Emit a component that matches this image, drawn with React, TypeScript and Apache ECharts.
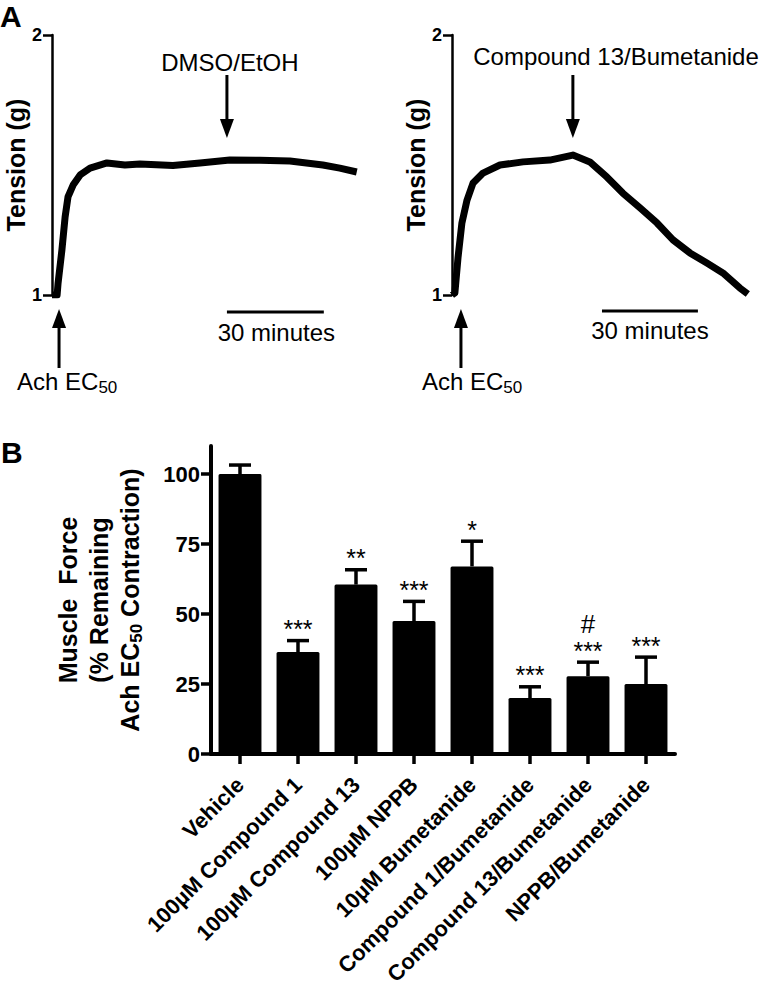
import React, { useEffect, useRef } from "react";
import * as echarts from "echarts";

// ---- Panel A traces (time in minutes, tension in g) ----
const leftTime = [0, 1.6, 1.9, 3.1, 4.1, 5.0, 6.6, 8.8, 11.9, 17.2, 22.8, 27.5, 37.8, 46.3, 55.6, 65.0, 74.4, 84.7, 90.0, 95.3];
const leftTension = [1.0, 1.0, 1.046, 1.173, 1.3, 1.377, 1.423, 1.462, 1.488, 1.508, 1.5, 1.504, 1.498, 1.508, 1.519, 1.518, 1.515, 1.5, 1.488, 1.473];
const rightTime = [0, 0.9, 1.9, 3.1, 4.7, 6.6, 9.7, 15.0, 22.2, 30.6, 37.8, 43.1, 48.4, 53.4, 58.8, 64.1, 69.1, 74.4, 79.7, 84.7, 90.0, 92.5];
const rightTension = [1.0, 1.008, 1.146, 1.277, 1.365, 1.431, 1.469, 1.5, 1.512, 1.519, 1.538, 1.512, 1.454, 1.392, 1.335, 1.277, 1.212, 1.162, 1.123, 1.085, 1.027, 1.004];

// annotations of panel A (times in minutes)
const leftDrugTime = 54.7;
const rightDrugTime = 37.8;
const leftAchTime = 2.2;
const rightAchTime = 2.8;
const leftScaleBar = [54.7, 85];
const rightScaleBar = [46.9, 76.9];

// ---- Panel B ----
const categories = [
  "Vehicle",
  "100µM Compound 1",
  "100µM Compound 13",
  "100µM NPPB",
  "10µM Bumetanide",
  "Compound 1/Bumetanide",
  "Compound 13/Bumetanide",
  "NPPB/Bumetanide",
];
const means = [100, 36.4, 60.5, 47.5, 67, 20, 27.8, 25];
const errTops = [103.2, 40.5, 65.8, 54.5, 76, 24, 32.8, 34.6];
const stars = ["", "***", "**", "***", "*", "***", "***", "***"];
const hashes = ["", "", "", "", "", "", "#", ""];
const forceTicks = [0, 25, 50, 75, 100];

const FONT = "Liberation Sans, Arial, Helvetica, sans-serif";

export default function App() {
  const ref = useRef<HTMLDivElement>(null);

  useEffect(() => {
    if (!ref.current) return;
    const chart = echarts.init(ref.current, undefined, { renderer: "svg" });

    const traceYAxis = (gi: number) => ({
      type: "value",
      gridIndex: gi,
      min: 1,
      max: 2,
      interval: 1,
      name: "Tension (g)",
      nameLocation: "middle",
      nameGap: 24,
      nameRotate: 90,
      nameTextStyle: { fontFamily: FONT, fontSize: 25, fontWeight: "bold", color: "#000" },
      axisLine: { show: true, lineStyle: { color: "#000", width: 2.5 } },
      axisTick: { show: true, length: 9, lineStyle: { color: "#000", width: 2.5 } },
      axisLabel: {
        margin: 10,
        fontFamily: FONT,
        fontSize: 18,
        fontWeight: "bold",
        color: "#000",
      },
      splitLine: { show: false },
    });

    const option: any = {
      animation: false,
      backgroundColor: "#fff",
      grid: [
        { left: 52, top: 35, width: 307, height: 260 },
        { left: 452, top: 35, width: 307, height: 260 },
        { left: 211, top: 446, width: 464, height: 308 },
      ],
      xAxis: [
        { type: "value", gridIndex: 0, min: 0, max: 96, show: false },
        { type: "value", gridIndex: 1, min: 0, max: 96, show: false },
        {
          type: "category",
          gridIndex: 2,
          data: categories,
          axisLine: { show: true, lineStyle: { color: "#000", width: 4 } },
          axisTick: { show: true, alignWithLabel: true, length: 10, lineStyle: { color: "#000", width: 3.5 } },
          axisLabel: {
            interval: 0,
            rotate: 45,
            margin: 27,
            fontFamily: FONT,
            fontSize: 22,
            fontWeight: "bold",
            color: "#000",
          },
        },
      ],
      yAxis: [
        traceYAxis(0),
        traceYAxis(1),
        {
          type: "value",
          gridIndex: 2,
          min: 0,
          max: 110,
          name:
            "{t|Muscle  Force}\n{t|(% Remaining}\n{t|Ach EC}{s|50}{t| Contraction)}",
          nameLocation: "middle",
          nameGap: 66,
          nameRotate: 90,
          nameTextStyle: {
            align: "center",
            rich: {
              t: { fontFamily: FONT, fontSize: 25, fontWeight: "bold", color: "#000", lineHeight: 31 },
              s: { fontFamily: FONT, fontSize: 17, fontWeight: "bold", color: "#000", lineHeight: 17, verticalAlign: "bottom" },
            },
          },
          axisLine: { show: true, lineStyle: { color: "#000", width: 4 } },
          axisTick: { show: true, length: 10, customValues: forceTicks, lineStyle: { color: "#000", width: 3.5 } },
          axisLabel: {
            margin: 11,
            customValues: forceTicks,
            fontFamily: FONT,
            fontSize: 22,
            fontWeight: "bold",
            color: "#000",
          },
          splitLine: { show: false },
        },
      ],
      series: [
        {
          type: "line",
          xAxisIndex: 0,
          yAxisIndex: 0,
          data: leftTime.map((t, i) => [t, leftTension[i]]),
          showSymbol: false,
          symbol: "none",
          lineStyle: { color: "#000", width: 7, join: "round" },
        },
        {
          type: "line",
          xAxisIndex: 1,
          yAxisIndex: 1,
          data: rightTime.map((t, i) => [t, rightTension[i]]),
          showSymbol: false,
          symbol: "none",
          lineStyle: { color: "#000", width: 7, join: "round" },
        },
        {
          type: "bar",
          xAxisIndex: 2,
          yAxisIndex: 2,
          data: means,
          barWidth: "74%",
          itemStyle: { color: "#000", borderRadius: 1.5 },
        },
        {
          type: "custom",
          xAxisIndex: 2,
          yAxisIndex: 2,
          data: means.map((m, i) => [i, m, errTops[i]]),
          encode: { x: 0, y: [1, 2] },
          renderItem: (params: any, api: any) => {
            const i = params.dataIndex;
            const pBar = api.coord([api.value(0), api.value(1)]);
            const pErr = api.coord([api.value(0), api.value(2)]);
            const style = { stroke: "#000", lineWidth: 3.5 };
            const children: any[] = [
              { type: "line", shape: { x1: pBar[0], y1: pBar[1], x2: pErr[0], y2: pErr[1] }, style },
              { type: "line", shape: { x1: pErr[0] - 11, y1: pErr[1], x2: pErr[0] + 11, y2: pErr[1] }, style },
            ];
            if (stars[i]) {
              children.push({
                type: "text",
                x: pErr[0],
                y: pErr[1] + 1,
                style: {
                  text: stars[i],
                  fontFamily: FONT,
                  fontSize: 25,
                  fill: "#000",
                  align: "center",
                  verticalAlign: "bottom",
                },
              });
            }
            if (hashes[i]) {
              children.push({
                type: "text",
                x: pErr[0],
                y: pErr[1] - 25,
                style: {
                  text: hashes[i],
                  fontFamily: FONT,
                  fontSize: 26,
                  fill: "#000",
                  align: "center",
                  verticalAlign: "bottom",
                },
              });
            }
            return { type: "group", children };
          },
        },
      ],
    };

    chart.setOption(option);

    const px = (gi: number, t: number, v: number) =>
      chart.convertToPixel({ xAxisIndex: gi, yAxisIndex: gi } as any, [t, v]) as number[];

    const head = 7;
    const downArrow = (x: number) => [
      { type: "line", shape: { x1: x, y1: 75, x2: x, y2: 122 }, style: { stroke: "#000", lineWidth: 3 } },
      { type: "polygon", shape: { points: [[x - head, 119], [x + head, 119], [x, 138]] }, style: { fill: "#000" } },
    ];
    const upArrow = (x: number) => [
      { type: "line", shape: { x1: x, y1: 325, x2: x, y2: 368 }, style: { stroke: "#000", lineWidth: 3 } },
      { type: "polygon", shape: { points: [[x - head, 328], [x + head, 328], [x, 309]] }, style: { fill: "#000" } },
    ];
    const txt = (x: number, y: number, text: string, extra: any = {}) => ({
      type: "text",
      x,
      y,
      style: {
        text,
        fontFamily: FONT,
        fontSize: 24,
        fill: "#000",
        align: "center",
        verticalAlign: "middle",
        ...extra,
      },
    });
    const achText = (x: number) => ({
      type: "text",
      x,
      y: 381,
      style: {
        text: "{t|Ach EC}{s|50}",
        align: "left",
        verticalAlign: "middle",
        rich: {
          t: { fontFamily: FONT, fontSize: 24, fill: "#000", lineHeight: 30 },
          s: { fontFamily: FONT, fontSize: 17, fill: "#000", lineHeight: 17, verticalAlign: "bottom" },
        },
      },
    });

    const lDrug = px(0, leftDrugTime, 1.5)[0];
    const rDrug = px(1, rightDrugTime, 1.5)[0];
    const lAch = px(0, leftAchTime, 1)[0];
    const rAch = px(1, rightAchTime, 1)[0];
    const lBar = [px(0, leftScaleBar[0], 1)[0], px(0, leftScaleBar[1], 1)[0]];
    const rBar = [px(1, rightScaleBar[0], 1)[0], px(1, rightScaleBar[1], 1)[0]];

    const elements: any[] = [
      txt(0, 16, "A", { align: "left", fontSize: 30, fontWeight: "bold" }),
      txt(1, 452, "B", { align: "left", fontSize: 30, fontWeight: "bold" }),
      ...downArrow(lDrug),
      ...downArrow(rDrug),
      txt(lDrug + 3, 62, "DMSO/EtOH"),
      txt(616, 56, "Compound 13/Bumetanide"),
      ...upArrow(lAch),
      ...upArrow(rAch),
      achText(lAch - 42),
      achText(rAch - 39),
      { type: "line", shape: { x1: lBar[0], y1: 312, x2: lBar[1], y2: 312 }, style: { stroke: "#000", lineWidth: 3 } },
      { type: "line", shape: { x1: rBar[0], y1: 311, x2: rBar[1], y2: 311 }, style: { stroke: "#000", lineWidth: 3 } },
      txt((lBar[0] + lBar[1]) / 2 + 1, 332, "30 minutes"),
      txt((rBar[0] + rBar[1]) / 2, 330, "30 minutes"),
    ];
    chart.setOption({ graphic: { elements } });

    return () => chart.dispose();
  }, []);

  return (
    <div
      ref={ref}
      style={{ position: "fixed", left: 0, top: 0, width: 763, height: 993, background: "#fff" }}
    />
  );
}
